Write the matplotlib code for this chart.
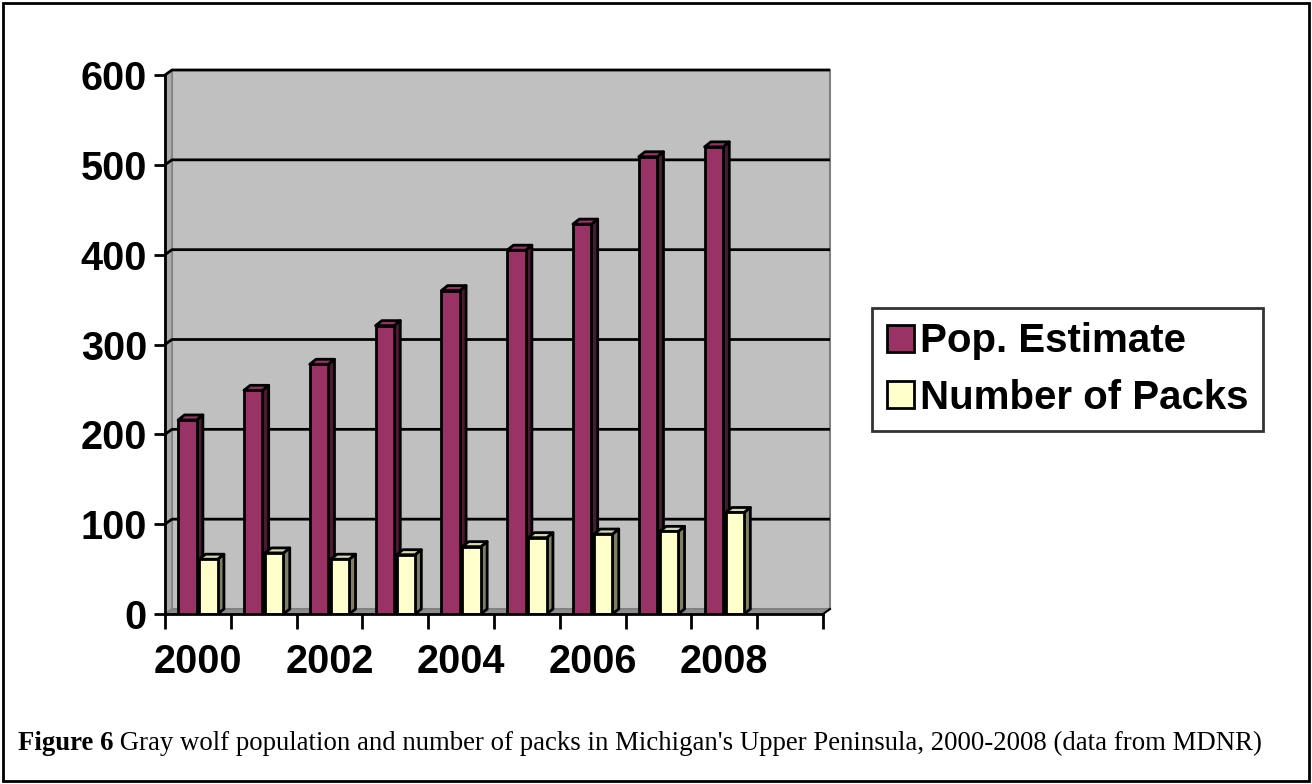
import matplotlib
matplotlib.use("Agg")
import matplotlib.pyplot as plt
from matplotlib.patches import Rectangle, Polygon
import numpy as np

# ---- data ----
categories = ["2000", "2001", "2002", "2003", "2004", "2005", "2006", "2007", "2008", "2009"]
tick_labels = ["2000", "", "2002", "", "2004", "", "2006", "", "2008", ""]
pop_estimate = [216, 249, 278, 321, 360, 405, 434, 509, 520]
num_packs = [61, 68, 61, 66, 75, 85, 89, 92, 113]
series_names = ["Pop. Estimate", "Number of Packs"]

W, H = 1312, 784
fig = plt.figure(figsize=(W / 100, H / 100), dpi=100)
fig.patch.set_facecolor("white")

# axes in pixel coordinates
ax_l, ax_r, ax_t, ax_b = 165, 823, 75, 614
ax = fig.add_axes([ax_l / W, 1 - ax_b / H, (ax_r - ax_l) / W, (ax_b - ax_t) / H])
ax.set_xlim(-0.5, len(categories) - 0.5)
ax.set_ylim(0, 600)
ax.patch.set_visible(False)
for s in ["top", "right"]:
    ax.spines[s].set_visible(False)
for s in ["left", "bottom"]:
    ax.spines[s].set_linewidth(2)
    ax.spines[s].set_zorder(20)

# depth offset (pixels -> data)
ux = (len(categories)) / (ax_r - ax_l)
uy = 600 / (ax_b - ax_t)
dpx, dpy = 7, 5
dx, dy = dpx * ux, dpy * uy
x0, x1 = -0.5, len(categories) - 0.5

# back wall
ax.add_patch(Polygon([(x0 + dx, dy), (x1 + dx, dy), (x1 + dx, 600 + dy), (x0 + dx, 600 + dy)],
                     closed=True, facecolor="#C0C0C0", edgecolor="#808080", lw=1.5, zorder=0, clip_on=False))
# left side wall
ax.add_patch(Polygon([(x0, 0), (x0 + dx, dy), (x0 + dx, 600 + dy), (x0, 600)],
                     closed=True, facecolor="#A8A8A8", edgecolor="#808080", lw=1, zorder=0.5, clip_on=False))
# floor
ax.add_patch(Polygon([(x0, 0), (x1, 0), (x1 + dx, dy), (x0 + dx, dy)],
                     closed=True, facecolor="#8C8C8C", edgecolor="#808080", lw=1, zorder=0.5, clip_on=False))
# gridlines
for v in range(100, 601, 100):
    ax.plot([x0, x0 + dx, x1 + dx], [v, v + dy, v + dy], color="black", lw=2, zorder=1,
            clip_on=False, solid_capstyle="butt")
ax.plot([x1, x1 + dx], [0, dy], color="black", lw=1.5, zorder=1, clip_on=False)

# bars
xs = np.arange(len(pop_estimate))
bw = 0.28
off = 0.16
specs = [
    (pop_estimate, -off, "#993366", "#993366", "#4A1A33"),
    (num_packs, off, "#FFFFCC", "#D8D8AC", "#7F7F66"),
]
for i in range(len(xs)):
    for k, (vals, o, cf, ct, cs) in enumerate(specs):
        xc = xs[i] + o
        v = vals[i]
        l, r = xc - bw / 2, xc + bw / 2
        z = 2 + i * 0.1 + k * 0.05
        # side
        ax.add_patch(Polygon([(r, 0), (r + dx * 0.9, dy), (r + dx * 0.9, v + dy), (r, v)], closed=True,
                             facecolor=cs, edgecolor="black", lw=2, zorder=z, joinstyle="round"))
        # top
        ax.add_patch(Polygon([(l, v), (r, v), (r + dx * 0.9, v + dy), (l + dx * 0.9, v + dy)], closed=True,
                             facecolor=ct, edgecolor="black", lw=2, zorder=z, joinstyle="round"))
        ax.bar(xc, v, width=bw, color=cf, edgecolor="black", linewidth=2, zorder=z + 0.01)

# ticks
ax.set_yticks(range(0, 601, 100))
ax.set_xticks(np.arange(len(categories) + 1) - 0.5, minor=False)
ax.set_xticklabels([])
ax.set_xticks(np.arange(len(categories)), minor=True)
ax.set_xticklabels(tick_labels, minor=True)
ax.tick_params(axis="x", which="major", length=11, width=2, direction="out")
ax.tick_params(axis="x", which="minor", length=0, pad=21)
ax.tick_params(axis="y", length=8, width=2, direction="out", pad=5)
for lab in ax.get_yticklabels() + ax.get_xticklabels(minor=True):
    lab.set_fontfamily("Liberation Sans")
    lab.set_fontweight("bold")
    lab.set_fontsize(28.5)

# legend
handles = [Rectangle((0, 0), 1, 1, facecolor="#993366", edgecolor="black", lw=2),
           Rectangle((0, 0), 1, 1, facecolor="#FFFFCC", edgecolor="black", lw=2)]
leg = fig.legend(handles, series_names, loc="upper left", bbox_to_anchor=(872 / W, 1 - 308 / H),
                 prop={"family": "Liberation Sans", "weight": "bold", "size": 29},
                 frameon=True, fancybox=False, edgecolor="black", handlelength=0.68, handleheight=0.66,
                 handletextpad=0.15, borderpad=0.36, labelspacing=0.45, borderaxespad=0)
leg.get_frame().set_linewidth(2)

# caption
cap_y = 1 - 743 / H
t1 = fig.text(18 / W, cap_y, "Figure 6", fontfamily="Liberation Serif", fontweight="bold",
              fontsize=19.3, va="center", ha="left")
fig.canvas.draw()
bb = t1.get_window_extent(fig.canvas.get_renderer())
fig.text((bb.x1) / W, cap_y,
         " Gray wolf population and number of packs in Michigan's Upper Peninsula, 2000-2008 (data from MDNR)",
         fontfamily="Liberation Serif", fontsize=19.3, va="center", ha="left")

# outer border
fig.patches.append(Rectangle((3 / W, 3 / H), (W - 6) / W, (H - 6) / H, transform=fig.transFigure,
                             fill=False, edgecolor="black", lw=2))

fig.savefig("out.png", dpi=100)
